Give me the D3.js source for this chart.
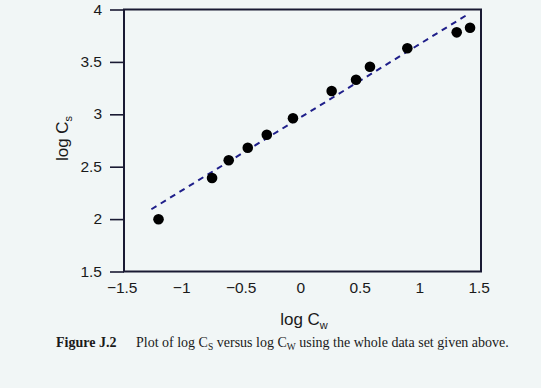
<!DOCTYPE html>
<html>
<head>
<meta charset="utf-8">
<script src="https://cdn.jsdelivr.net/npm/d3@7/dist/d3.min.js"></script>
<style>
  html, body { margin: 0; padding: 0; background: #f1f6f6; }
  svg { display: block; }
</style>
</head>
<body>
<script>
// ---- data ----
const logCw = [-1.21, -0.76, -0.62, -0.46, -0.30, -0.08, 0.245, 0.45, 0.567, 0.881, 1.296, 1.408];
const logCs = [1.998, 2.392, 2.561, 2.681, 2.805, 2.962, 3.222, 3.330, 3.454, 3.630, 3.782, 3.826];
const fitX = [-1.27, 1.39];
const fitY = [2.094, 3.954];
const xTicks = [-1.5, -1, -0.5, 0, 0.5, 1, 1.5];
const yTicks = [1.5, 2, 2.5, 3, 3.5, 4];

const W = 541, H = 388;
const svg = d3.select("body").append("svg").attr("width", W).attr("height", H);

const pL = 124, pR = 481, pT = 9.5, pB = 271.5;
const x = d3.scaleLinear().domain([-1.5, 1.5]).range([pL, pR]);
const y = d3.scaleLinear().domain([1.5, 4]).range([pB, pT]);

const ink = "#1a1a33";
const sans = "Liberation Sans, Arial, sans-serif";
const serif = "Liberation Serif, Times New Roman, serif";

// frame
svg.append("rect").attr("x", pL).attr("y", pT)
  .attr("width", pR - pL).attr("height", pB - pT)
  .attr("fill", "none").attr("stroke", ink).attr("stroke-width", 2);

// y axis
const yAxis = svg.append("g").attr("transform", `translate(${pL},0)`)
  .call(d3.axisLeft(y).tickValues(yTicks).tickSize(14).tickPadding(8).tickFormat(d3.format("")));
yAxis.select(".domain").remove();
yAxis.selectAll(".tick line").attr("stroke", ink).attr("stroke-width", 1.6);
yAxis.selectAll(".tick text").attr("fill", "#1a1a1a").attr("font-family", sans)
  .attr("font-size", 15.5).attr("dy", "0.3em");

// x axis (labels only)
const xAxis = svg.append("g").attr("transform", `translate(0,${pB})`)
  .call(d3.axisBottom(x).tickValues(xTicks).tickSize(0).tickPadding(10).tickFormat(d3.format("")));
xAxis.select(".domain").remove();
xAxis.selectAll(".tick text").attr("fill", "#1a1a1a").attr("font-family", sans)
  .attr("font-size", 15.5).attr("dx", "-0.15em");

// fit line
svg.append("line")
  .attr("x1", x(fitX[0])).attr("y1", y(fitY[0]))
  .attr("x2", x(fitX[1])).attr("y2", y(fitY[1]))
  .attr("stroke", "#1f1f8a").attr("stroke-width", 2).attr("stroke-dasharray", "6,5");

// points
svg.append("g").selectAll("circle").data(logCw.map((v, i) => [v, logCs[i]]))
  .join("circle")
  .attr("cx", d => x(d[0])).attr("cy", d => y(d[1])).attr("r", 5.3)
  .attr("fill", "#000");

// y label
const yl = svg.append("text")
  .attr("transform", `translate(68,${(pT + pB) / 2 - 2}) rotate(-90)`)
  .attr("text-anchor", "middle")
  .attr("font-family", sans).attr("font-size", 17).attr("fill", "#1a1a1a");
yl.append("tspan").text("log C");
yl.append("tspan").attr("font-size", 11).attr("dy", 4).text("s");

// x label
const xl = svg.append("text")
  .attr("x", 304).attr("y", 325)
  .attr("text-anchor", "middle")
  .attr("font-family", sans).attr("font-size", 17).attr("fill", "#1a1a1a");
xl.append("tspan").text("log C");
xl.append("tspan").attr("font-size", 11).attr("dy", 4).text("w");

// caption
svg.append("text").attr("x", 56).attr("y", 347)
  .attr("font-family", serif).attr("font-size", 14)
  .attr("font-weight", "bold").attr("fill", "#1a1a1a").text("Figure J.2");
const cap = svg.append("text").attr("x", 136).attr("y", 347)
  .attr("font-family", serif).attr("font-size", 14).attr("fill", "#1a1a1a");
cap.append("tspan").text("Plot of log C");
cap.append("tspan").attr("font-size", 9.5).attr("dy", 3).text("S");
cap.append("tspan").attr("dy", -3).text(" versus log C");
cap.append("tspan").attr("font-size", 9.5).attr("dy", 3).text("W");
cap.append("tspan").attr("dy", -3).text(" using the whole data set given above.");
</script>
</body>
</html>
